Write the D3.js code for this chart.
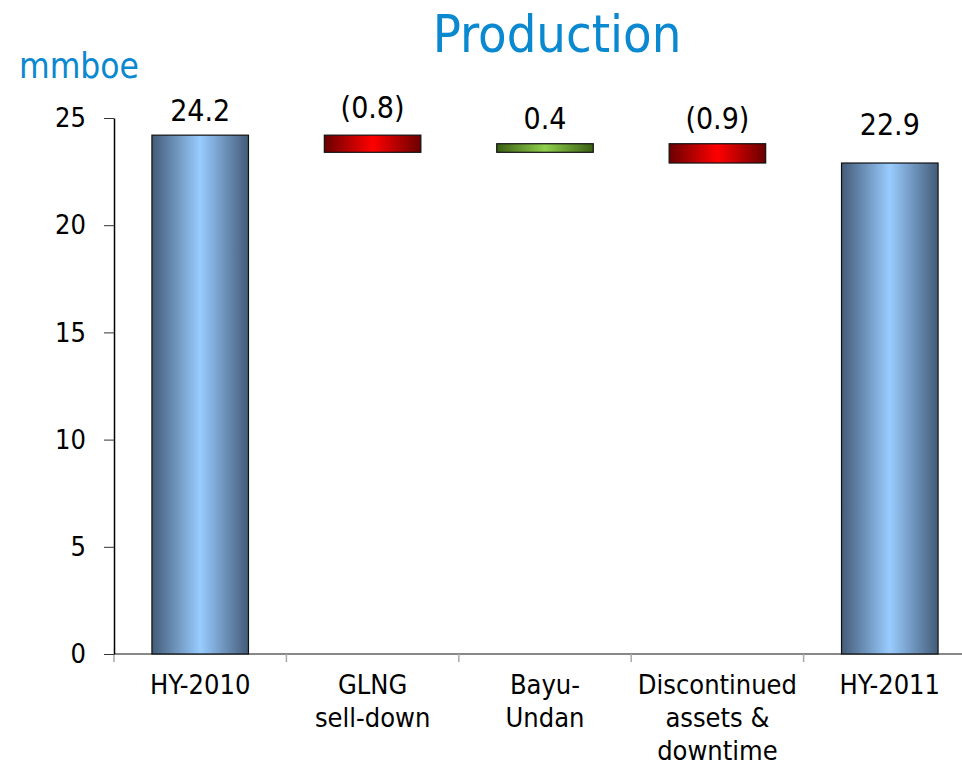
<!DOCTYPE html>
<html>
<head>
<meta charset="utf-8">
<script src="https://cdn.jsdelivr.net/npm/d3@7"></script>
<style>
  body { margin: 0; background: #fff; }
  svg { display: block; font-family: "DejaVu Sans Condensed", "DejaVu Sans", sans-serif; }
</style>
</head>
<body>
<div class="chart"></div>
<script>
// Data
var categories = [["HY-2010"], ["GLNG", "sell-down"], ["Bayu-", "Undan"], ["Discontinued", "assets &", "downtime"], ["HY-2011"]];
var values = [24.2, -0.8, 0.4, -0.9, 22.9];
var kinds = ["total", "step", "step", "step", "total"];
var valueLabels = ["24.2", "(0.8)", "0.4", "(0.9)", "22.9"];
var yTicks = [0, 5, 10, 15, 20, 25];

// Layout
var width = 962, height = 767;
var labelGap = [14, 17, 15, 15, 28];

var svg = d3.select(".chart").append("svg")
    .attr("width", width)
    .attr("height", height);

var defs = svg.append("defs");

// bar gradients (dark edges, light middle)
function addGradient(id, dark, light) {
  var g = defs.append("linearGradient")
    .attr("id", id)
    .attr("x1", "0%").attr("x2", "100%")
    .attr("y1", "0%").attr("y2", "0%");
  g.append("stop").attr("offset", "0%").attr("stop-color", dark);
  g.append("stop").attr("offset", "50%").attr("stop-color", light);
  g.append("stop").attr("offset", "100%").attr("stop-color", dark);
}
addGradient("blue", "#435b78", "#99ccff");
addGradient("red", "#6a0000", "#ff0000");
addGradient("green", "#3b5e14", "#8fd04c");

// scales
var x = d3.scaleBand()
    .domain(d3.range(categories.length))
    .range([114, 976])
    .paddingInner(0.44)
    .paddingOuter(0.22);

var y = d3.scaleLinear()
    .domain([0, 25])
    .range([654, 118]);

// running totals for the waterfall
var running = 0;
var bars = values.map(function(v, i) {
  var start, end;
  if (kinds[i] == "total") {
    start = 0; end = v; running = v;
  } else {
    start = running; end = running + v; running = end;
  }
  return { i: i, start: start, end: end, v: v };
});

// x axis (grey baseline with ticks between categories)
var step = x.step();
var xAxisScale = d3.scaleLinear().domain([0, categories.length]).range([114, 114 + step * categories.length]);
svg.append("line")
    .attr("x1", 114).attr("x2", width)
    .attr("y1", y(0)).attr("y2", y(0))
    .attr("stroke", "#888").attr("stroke-width", 2);
svg.selectAll(".xtick")
    .data(d3.range(categories.length))
    .enter().append("line")
    .attr("x1", function(d) { return xAxisScale(d); })
    .attr("x2", function(d) { return xAxisScale(d); })
    .attr("y1", y(0)).attr("y2", y(0) + 8)
    .attr("stroke", "#aaa").attr("stroke-width", 1.5);

// y axis
var yAxis = svg.append("g")
    .attr("transform", "translate(114,0)")
    .call(d3.axisLeft(y).tickValues(yTicks).tickSize(10).tickPadding(18).tickSizeOuter(0));
yAxis.select(".domain").attr("stroke", "#000").attr("stroke-width", 1.5);
yAxis.selectAll(".tick line").attr("stroke", "#333");
yAxis.selectAll(".tick text")
    .attr("font-size", 27)
    .attr("font-family", "DejaVu Sans Condensed, DejaVu Sans, sans-serif")
    .attr("fill", "#000");

// bars
svg.selectAll(".bar")
    .data(bars)
    .enter().append("rect")
    .attr("x", function(d) { return x(d.i); })
    .attr("width", x.bandwidth())
    .attr("y", function(d) { return y(Math.max(d.start, d.end)); })
    .attr("height", function(d) { return Math.abs(y(d.start) - y(d.end)); })
    .attr("fill", function(d) {
      if (kinds[d.i] == "total") return "url(#blue)";
      return d.v < 0 ? "url(#red)" : "url(#green)";
    })
    .attr("stroke", "#111")
    .attr("stroke-width", 1.2);

// value labels
svg.selectAll(".vlabel")
    .data(bars)
    .enter().append("text")
    .attr("x", function(d) { return x(d.i) + x.bandwidth() / 2; })
    .attr("y", function(d) { return y(Math.max(d.start, d.end)) - labelGap[d.i]; })
    .attr("text-anchor", "middle")
    .attr("font-size", 30)
    .attr("fill", "#000")
    .text(function(d) { return valueLabels[d.i]; });

// category labels
var cat = svg.selectAll(".cat")
    .data(categories)
    .enter().append("text")
    .attr("text-anchor", "middle")
    .attr("font-size", 27)
    .attr("fill", "#000");
cat.selectAll("tspan")
    .data(function(d, i) { return d.map(function(s) { return { s: s, i: i }; }); })
    .enter().append("tspan")
    .attr("x", function(d) { return x(d.i) + x.bandwidth() / 2; })
    .attr("y", function(d, j) { return 694 + j * 33; })
    .text(function(d) { return d.s; });

// title and unit
svg.append("text")
    .attr("x", 557).attr("y", 52)
    .attr("text-anchor", "middle")
    .attr("font-size", 52)
    .attr("fill", "#0a88d0")
    .text("Production");

svg.append("text")
    .attr("x", 19).attr("y", 78)
    .attr("font-size", 35)
    .attr("fill", "#0a88d0")
    .text("mmboe");
</script>
</body>
</html>
